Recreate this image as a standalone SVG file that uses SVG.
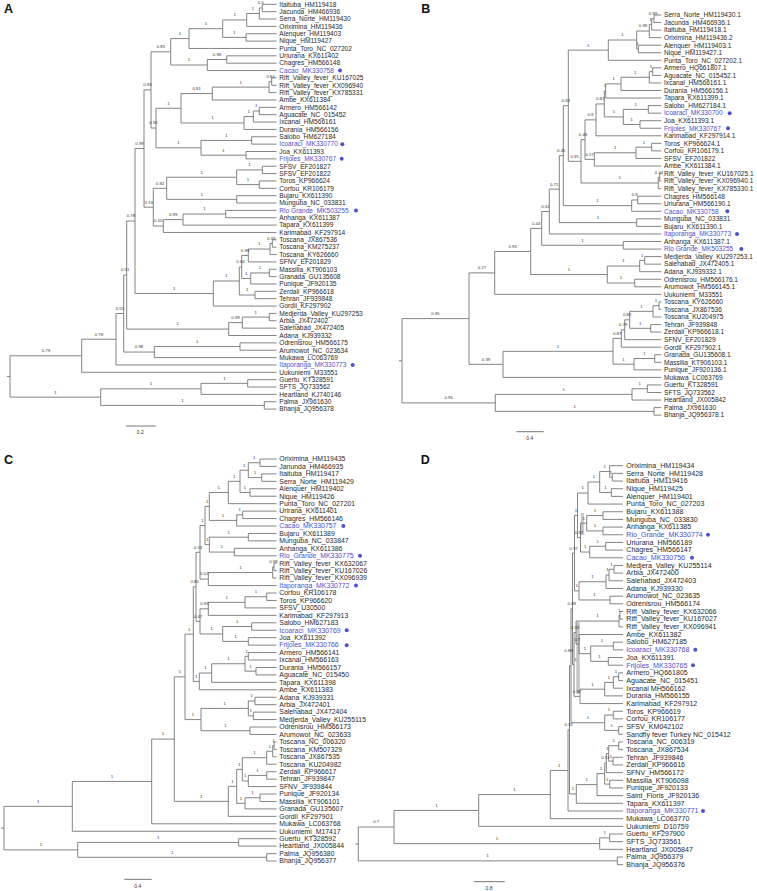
<svg xmlns="http://www.w3.org/2000/svg" width="757" height="891" viewBox="0 0 757 891">
<style>
.t{font-family:"Liberation Sans",Arial,sans-serif;fill:#2a2a2a}
.fa{font-size:6.6px}.fc{font-size:6.9px}.fd{font-size:7.1px}
.bl{fill:#4f4fd0}
.dot{fill:#4f4fd0}
.s{font-family:"Liberation Sans",Arial,sans-serif;font-size:4.3px;fill:#333;text-anchor:middle}
.br{fill:none;stroke:#767676;stroke-width:0.9;vector-effect:non-scaling-stroke}
.sb{fill:none;stroke:#666;stroke-width:0.9}
.sc{font-family:"Liberation Sans",Arial,sans-serif;font-size:5px;fill:#333;text-anchor:middle}
.pl{font-family:"Liberation Sans",Arial,sans-serif;font-size:12.5px;font-weight:bold;fill:#111}
</style>
<rect width="757" height="891" fill="#fff"/>
<g id="connectors">
<g id="treeA" transform="translate(0,4.3) scale(1,7.36)"><path class="br" d="M276.5 0 H262.3 V1 H276.5 M262.3 0.5 H259.3 V2 H276.5 M259.3 1.25 H246.7 V3 H276.5 M276.5 4 H246 V5 H276.5 M246.7 2.125 H222.7 V4.5 H246 M222.7 3.3125 H189 V6 H276.5 M276.5 7 H226.7 V8 H276.5 M226.7 7.5 H207.3 V9 H276.5 M189 4.65625 H170.7 V8.25 H207.3 M276.5 10 H271.7 V11 H276.5 M271.7 10.5 H269 V12 H276.5 M269 11.25 H212.3 V13 H276.5 M276.5 14 H259.3 V15 H276.5 M259.3 14.5 H253.3 V16 H276.5 M253.3 15.25 H244 V17 H276.5 M212.3 12.125 H181 V16.125 H244 M276.5 18 H251.7 V19 H276.5 M276.5 20 H246 V21 H276.5 M251.7 18.5 H201 V20.5 H246 M181 14.125 H156 V19.5 H201 M170.7 6.453 H151 V16.8125 H156 M276.5 22 H262.3 V23 H276.5 M276.5 24 H259.3 V25 H276.5 M262.3 22.5 H236.7 V24.5 H259.3 M276.5 26 H236.7 V27 H276.5 M236.7 23.5 H166.7 V26.5 H236.7 M276.5 28 H225.7 V29 H276.5 M225.7 28.5 H183 V30 H276.5 M183 29.25 H163.3 V31 H276.5 M166.7 25 H153.3 V30.125 H163.3 M151 11.633 H144 V27.5625 H153.3 M276.5 32 H272.3 V33 H276.5 M272.3 32.5 H270 V34 H276.5 M270 33.25 H248.3 V35 H276.5 M276.5 36 H269.3 V37 H276.5 M269.3 36.5 H250.7 V38 H276.5 M248.3 34.125 H241.7 V37.25 H250.7 M276.5 39 H255 V40 H276.5 M241.7 35.6875 H239.3 V39.5 H255 M239.3 37.594 H213.3 V41 H276.5 M144 19.598 H135 V39.297 H213.3 M276.5 42 H269.3 V43 H276.5 M269.3 42.5 H242.3 V44 H276.5 M242.3 43.25 H228.7 V45 H276.5 M135 29.447 H126.7 V44.125 H228.7 M276.5 46 H240 V47 H276.5 M240 46.5 H154.3 V48 H276.5 M126.7 36.786 H123.7 V47.25 H154.3 M123.7 42.018 H116 V49 H276.5 M116 45.509 H81.7 V50 H276.5 M276.5 51 H247.7 V52 H276.5 M247.7 51.5 H201 V53 H276.5 M276.5 54 H264.3 V55 H276.5 M201 52.25 H100.7 V54.5 H264.3 M81.7 47.755 H10 V53.375 H100.7 M7 50.565 H10"/></g>
<g id="treeB" transform="translate(0,15) scale(1,7.55)"><path class="br" d="M661.3 0 H654 V1 H661.3 M654 0.5 H651.7 V2 H661.3 M651.7 1.25 H649.3 V3 H661.3 M661.3 4 H638.3 V5 H661.3 M649.3 2.125 H636.7 V4.5 H638.3 M636.7 3.3125 H608.3 V6 H661.3 M661.3 7 H652.7 V8 H661.3 M652.7 7.5 H649.3 V9 H661.3 M649.3 8.25 H621 V10 H661.3 M621 9.125 H605.7 V11 H661.3 M661.3 12 H648.3 V13 H661.3 M661.3 14 H640 V15 H661.3 M648.3 12.5 H623.3 V14.5 H640 M605.7 10.0625 H604.3 V13.5 H623.3 M604.3 11.78 H596 V16 H661.3 M661.3 17 H651.7 V18 H661.3 M651.7 17.5 H636 V19 H661.3 M636 18.25 H594.3 V20 H661.3 M596 13.89 H585 V19.125 H594.3 M661.3 21 H659.7 V22 H661.3 M659.7 21.5 H658.3 V23 H661.3 M585 16.51 H581 V22.25 H658.3 M608.3 4.656 H568.3 V19.38 H581 M661.3 24 H637.7 V25 H661.3 M637.7 24.5 H631.7 V26 H661.3 M568.3 12.018 H563.3 V25.25 H631.7 M661.3 27 H636.7 V28 H661.3 M563.3 18.634 H559.3 V27.5 H636.7 M559.3 23.067 H549.3 V29 H661.3 M661.3 30 H623.3 V31 H661.3 M549.3 26.03 H541.7 V30.5 H623.3 M661.3 32 H644.7 V33 H661.3 M644.7 32.5 H639.7 V34 H661.3 M661.3 35 H634.7 V36 H661.3 M639.7 33.25 H607.3 V35.5 H634.7 M541.7 28.27 H530.7 V34.375 H607.3 M530.7 31.32 H494.7 V37 H661.3 M661.3 38 H659 V39 H661.3 M659 38.5 H653 V40 H661.3 M661.3 41 H650.7 V42 H661.3 M653 39.25 H629.7 V41.5 H650.7 M629.7 40.375 H624.7 V43 H661.3 M624.7 41.69 H621.3 V44 H661.3 M661.3 45 H654.7 V46 H661.3 M654.7 45.5 H634 V47 H661.3 M621.3 42.84 H613 V46.25 H634 M613 44.545 H503 V48 H661.3 M494.7 34.16 H469 V46.27 H503 M661.3 49 H647.3 V50 H661.3 M647.3 49.5 H632 V51 H661.3 M661.3 52 H654 V53 H661.3 M632 50.25 H495.3 V52.5 H654 M469 40.215 H402 V51.375 H495.3 M399 45.795 H402"/></g>
<g id="treeC" transform="translate(0,459) scale(1,7.445)"><path class="br" d="M276.5 0 H260 V1 H276.5 M276.5 2 H261.7 V3 H276.5 M260 0.5 H248.3 V2.5 H261.7 M276.5 4 H250 V5 H276.5 M248.3 1.5 H240 V4.5 H250 M240 3 H228.3 V6 H276.5 M276.5 7 H242.7 V8 H276.5 M242.7 7.5 H236.7 V9 H276.5 M228.3 4.5 H209.3 V8.25 H236.7 M276.5 10 H248.3 V11 H276.5 M276.5 12 H234.3 V13 H276.5 M248.3 10.5 H209.3 V12.5 H234.3 M209.3 6.375 H205 V11.5 H209.3 M276.5 14 H274 V15 H276.5 M274 14.5 H272.7 V16 H276.5 M272.7 15.25 H208.3 V17 H276.5 M205 8.9375 H200 V16.125 H208.3 M276.5 18 H266.7 V19 H276.5 M266.7 18.5 H245 V20 H276.5 M245 19.25 H208.3 V21 H276.5 M276.5 22 H251.7 V23 H276.5 M276.5 24 H248.3 V25 H276.5 M251.7 22.5 H222.7 V24.5 H248.3 M208.3 20.125 H200 V23.5 H222.7 M200 12.53 H196 V21.8125 H200 M276.5 26 H248.3 V27 H276.5 M276.5 28 H256 V29 H276.5 M248.3 26.5 H245 V28.5 H256 M245 27.5 H211.7 V30 H276.5 M211.7 28.75 H199.3 V31 H276.5 M196 17.17 H193.3 V29.875 H199.3 M276.5 32 H255 V33 H276.5 M276.5 34 H253.3 V35 H276.5 M255 32.5 H248.3 V34.5 H253.3 M276.5 36 H250 V37 H276.5 M248.3 33.5 H201 V36.5 H250 M193.3 23.52 H185 V35 H201 M276.5 38 H274 V39 H276.5 M274 38.5 H272.7 V40 H276.5 M272.7 39.25 H266.7 V41 H276.5 M276.5 42 H266.7 V43 H276.5 M266.7 42.5 H248.3 V44 H276.5 M266.7 40.125 H242.3 V43.25 H248.3 M276.5 45 H260 V46 H276.5 M260 45.5 H245 V47 H276.5 M242.3 41.6875 H236.7 V46.25 H245 M236.7 43.97 H228.3 V48 H276.5 M185 29.26 H174.3 V45.985 H228.3 M174.3 37.62 H151.7 V49 H276.5 M151.7 43.31 H72.3 V50 H276.5 M276.5 51 H238.7 V52 H276.5 M276.5 53 H266.7 V54 H276.5 M238.7 51.5 H77.7 V53.5 H266.7 M72.3 46.655 H4 V52.5 H77.7 M1 49.58 H4"/></g>
<g id="treeD">
<rect x="580.8" y="513" width="3" height="22" fill="#c4c4c4"/>
<rect x="576.3" y="622" width="3.4" height="72" fill="#c4c4c4"/>
<g transform="translate(0,465.7) scale(1,7.673)"><path class="br" d="M623 1 H612.3 V2 H623 M623 0 H609.7 V1.5 H612.3 M623 3 H611.3 V4 H623 M609.7 0.75 H599.7 V3.5 H611.3 M599.7 2.125 H588 V5 H623 M623 6 H603 V7 H623 M623 8 H603 V9 H623 M603 6.5 H586.7 V8.5 H603 M623 10 H605.7 V11 H623 M605.7 10.5 H589.7 V12 H623 M586.7 7.5 H580.5 V11.25 H589.7 M588 3.5625 H577.5 V9.375 H580.5 M623 13 H614 V14 H623 M614 13.5 H609 V15 H623 M609 14.25 H606 V16 H623 M623 17 H610 V18 H623 M606 15.125 H579 V17.5 H610 M577.5 6.469 H574.5 V16.3125 H579 M623 19 H620 V20 H623 M620 19.5 H619 V21 H623 M623 23 H613.3 V24 H623 M623 25 H608.3 V26 H623 M613.3 23.5 H590.7 V25.5 H608.3 M623 22 H579 V24.5 H590.7 M619 20.25 H576 V23.25 H579 M623 27 H618.7 V28 H623 M618.7 27.5 H613.3 V29 H623 M613.3 28.25 H604.7 V30 H623 M604.7 29.125 H580 V31 H623 M576 21.75 H574 V30.0625 H580 M574.5 11.39 H572.5 V25.906 H574 M623 32 H613.3 V33 H623 M623 34 H618.7 V35 H623 M613.3 32.5 H604.7 V34.5 H618.7 M572.5 18.648 H571 V33.5 H604.7 M623 36 H618.7 V37 H623 M623 38 H613 V39 H623 M618.7 36.5 H608.7 V38.5 H613 M608.7 37.5 H606.3 V40 H623 M623 41 H609.7 V42 H623 M606.3 38.75 H604.7 V41.5 H609.7 M604.7 40.125 H597 V43 H623 M597 41.5625 H576.3 V44 H623 M571 26.074 H569.5 V42.781 H576.3 M569.5 34.43 H568 V45 H623 M568 39.715 H550.3 V46 H623 M550.3 42.86 H478.7 V47 H623 M623 48 H609.7 V49 H623 M609.7 48.5 H599.7 V50 H623 M478.7 44.93 H394 V49.25 H599.7 M623 51 H617.3 V52 H623 M394 47.09 H358.3 V51.5 H617.3 M355.3 49.295 H358.3"/></g>
</g>
</g>
<g id="support-values">
<g id="supA">
<text class="s" x="260.8" y="4.38">0.5</text><text class="s" x="253" y="9.9">1</text><text class="s" x="234.7" y="16.34">1</text><text class="s" x="234.35" y="33.82">1</text><text class="s" x="205.85" y="25.08">1</text><text class="s" x="179.85" y="34.97">1</text><text class="s" x="217" y="55.9">0.99</text><text class="s" x="189" y="61.42">1</text><text class="s" x="160.85" y="48.19">0.85</text><text class="s" x="270.35" y="77.98">0.84</text><text class="s" x="240.65" y="83.5">1</text><text class="s" x="196.65" y="89.94">0.81</text><text class="s" x="256.3" y="107.42">1</text><text class="s" x="248.65" y="112.94">1</text><text class="s" x="212.5" y="119.38">1</text><text class="s" x="168.5" y="104.66">1</text><text class="s" x="226.35" y="136.86">1</text><text class="s" x="223.5" y="151.58">1</text><text class="s" x="178.5" y="144.22">1</text><text class="s" x="153.5" y="124.44">0.92</text><text class="s" x="147.5" y="86.32">0.83</text><text class="s" x="249.5" y="166.3">1</text><text class="s" x="248" y="181.02">1</text><text class="s" x="201.7" y="173.66">1</text><text class="s" x="201.7" y="195.74">1</text><text class="s" x="160" y="184.7">0.82</text><text class="s" x="204.35" y="210.46">1</text><text class="s" x="173.15" y="215.98">0.99</text><text class="s" x="158.3" y="222.42">0.55</text><text class="s" x="148.65" y="203.56">0.74</text><text class="s" x="139.5" y="144.94">0.99</text><text class="s" x="271.15" y="239.9">0.39</text><text class="s" x="259.15" y="245.42">1</text><text class="s" x="245" y="251.86">0.99</text><text class="s" x="260" y="269.34">1</text><text class="s" x="246.2" y="274.86">1</text><text class="s" x="240.5" y="263.36">0.84</text><text class="s" x="247.15" y="291.42">1</text><text class="s" x="226.3" y="277.39">1</text><text class="s" x="174.15" y="289.93">1</text><text class="s" x="130.85" y="217.43">0.78</text><text class="s" x="255.8" y="313.5">1</text><text class="s" x="235.5" y="319.02">0.99</text><text class="s" x="177.7" y="325.46">1</text><text class="s" x="125.2" y="271.44">0.51</text><text class="s" x="197.15" y="342.94">1</text><text class="s" x="139" y="348.46">0.98</text><text class="s" x="119.85" y="309.95">0.55</text><text class="s" x="98.85" y="335.65">0.78</text><text class="s" x="45.85" y="352.18">0.79</text><text class="s" x="224.35" y="379.74">1</text><text class="s" x="150.85" y="385.26">1</text><text class="s" x="182.5" y="401.82">1</text><text class="s" x="55.35" y="393.54">1</text>
</g>
<g id="supB">
<text class="s" x="652.85" y="15.18">0.99</text><text class="s" x="650.5" y="20.84">1</text><text class="s" x="643" y="27.44">0.99</text><text class="s" x="637.5" y="45.38">1</text><text class="s" x="622.5" y="36.41">1</text><text class="s" x="588.3" y="46.55">1</text><text class="s" x="651" y="68.03">1</text><text class="s" x="635.15" y="73.69">1</text><text class="s" x="613.35" y="80.29">1</text><text class="s" x="605" y="87.37">1</text><text class="s" x="635.8" y="105.78">1</text><text class="s" x="631.65" y="120.88">1</text><text class="s" x="613.8" y="113.33">1</text><text class="s" x="600.15" y="100.34">0.81</text><text class="s" x="590.5" y="116.27">0.9</text><text class="s" x="643.85" y="143.53">1</text><text class="s" x="615.15" y="149.19">1</text><text class="s" x="589.65" y="155.79">0.57</text><text class="s" x="583" y="136.05">0.49</text><text class="s" x="659" y="173.73">0.44</text><text class="s" x="619.65" y="179.39">1</text><text class="s" x="574.65" y="157.72">0.95</text><text class="s" x="565.8" y="102.14">0.69</text><text class="s" x="634.7" y="196.38">0.9</text><text class="s" x="597.5" y="202.04">1</text><text class="s" x="561.3" y="152.09">0.45</text><text class="s" x="598" y="219.03">1</text><text class="s" x="554.3" y="185.56">0.71</text><text class="s" x="545.5" y="207.93">0.61</text><text class="s" x="582.5" y="241.68">1</text><text class="s" x="536.2" y="224.84">0.44</text><text class="s" x="642.2" y="256.78">1</text><text class="s" x="623.5" y="262.44">1</text><text class="s" x="621" y="279.43">1</text><text class="s" x="569" y="270.93">1</text><text class="s" x="512.7" y="247.87">0.95</text><text class="s" x="481.85" y="269.31">0.27</text><text class="s" x="656" y="302.08">1</text><text class="s" x="641.35" y="307.74">1</text><text class="s" x="640.2" y="324.73">1</text><text class="s" x="627.2" y="316.23">0.82</text><text class="s" x="623" y="326.16">0.79</text><text class="s" x="617.15" y="334.84">0.87</text><text class="s" x="644.35" y="354.93">1</text><text class="s" x="623.5" y="360.59">1</text><text class="s" x="558" y="347.71">1</text><text class="s" x="486" y="360.74">0.39</text><text class="s" x="435.5" y="315.02">0.95</text><text class="s" x="639.65" y="385.13">1</text><text class="s" x="563.65" y="390.79">1</text><text class="s" x="574.65" y="407.78">1</text><text class="s" x="448.65" y="399.28">0.95</text>
</g>
<g id="supC">
<text class="s" x="254.15" y="459.12">1</text><text class="s" x="255" y="474.01">1</text><text class="s" x="244.15" y="466.57">1</text><text class="s" x="245" y="488.9">1</text><text class="s" x="234.15" y="477.74">1</text><text class="s" x="218.8" y="488.9">1</text><text class="s" x="239.7" y="511.24">1</text><text class="s" x="223" y="516.82">1</text><text class="s" x="207.15" y="502.86">1</text><text class="s" x="228.8" y="533.57">1</text><text class="s" x="221.8" y="548.46">1</text><text class="s" x="207.15" y="541.02">1</text><text class="s" x="202.5" y="521.94">1</text><text class="s" x="273.35" y="563.35">0.98</text><text class="s" x="240.5" y="568.94">1</text><text class="s" x="204.15" y="575.45">0.52</text><text class="s" x="198" y="548.69">0.53</text><text class="s" x="255.85" y="593.13">1</text><text class="s" x="226.65" y="598.72">1</text><text class="s" x="204.15" y="605.23">0.93</text><text class="s" x="237.2" y="622.91">1</text><text class="s" x="235.5" y="637.8">1</text><text class="s" x="211.35" y="630.36">1</text><text class="s" x="198" y="617.79">0.47</text><text class="s" x="194.65" y="583.23">0.85</text><text class="s" x="246.65" y="652.69">1</text><text class="s" x="250.5" y="667.58">1</text><text class="s" x="228.35" y="660.14">1</text><text class="s" x="205.5" y="669.44">1</text><text class="s" x="196.3" y="677.82">1</text><text class="s" x="189.15" y="630.51">1</text><text class="s" x="251.65" y="697.36">1</text><text class="s" x="250.8" y="712.25">1</text><text class="s" x="224.65" y="704.81">1</text><text class="s" x="225.5" y="727.14">1</text><text class="s" x="193" y="715.98">1</text><text class="s" x="179.65" y="673.24">1</text><text class="s" x="273.35" y="742.03">1</text><text class="s" x="269.7" y="747.61">1</text><text class="s" x="254.5" y="754.13">1</text><text class="s" x="257.5" y="771.81">1</text><text class="s" x="245.3" y="777.39">1</text><text class="s" x="239.5" y="765.76">1</text><text class="s" x="252.5" y="794.15">1</text><text class="s" x="240.85" y="799.73">1</text><text class="s" x="232.5" y="782.76">1</text><text class="s" x="201.3" y="797.76">1</text><text class="s" x="163" y="735.48">1</text><text class="s" x="112" y="777.84">1</text><text class="s" x="38.15" y="802.75">1</text><text class="s" x="158.2" y="838.82">1</text><text class="s" x="172.2" y="853.71">1</text><text class="s" x="40.85" y="846.26">1</text>
</g>
<g id="supD">
<text class="s" x="611" y="473.61">1</text><text class="s" x="604.7" y="467.85">1</text><text class="s" x="605.5" y="488.96">1</text><text class="s" x="593.85" y="478.41">1</text><text class="s" x="582.75" y="489.43">1</text><text class="s" x="594.85" y="511.97">1</text><text class="s" x="594.85" y="527.32">1</text><text class="s" x="583.6" y="519.65">1</text><text class="s" x="597.7" y="542.67">1</text><text class="s" x="585.1" y="548.42">1</text><text class="s" x="579" y="534.03">0.87</text><text class="s" x="576" y="511.74">1</text><text class="s" x="611.5" y="565.69">1</text><text class="s" x="607.5" y="571.44">1</text><text class="s" x="592.5" y="578.15">1</text><text class="s" x="594.5" y="596.38">1</text><text class="s" x="576.75" y="587.27">1</text><text class="s" x="573.5" y="549.5">0.97</text><text class="s" x="619.5" y="611.72">1</text><text class="s" x="597.5" y="617.48">1</text><text class="s" x="602" y="642.42">1</text><text class="s" x="599.5" y="657.76">1</text><text class="s" x="584.85" y="650.09">1</text><text class="s" x="577.5" y="640.5">0.7</text><text class="s" x="575" y="628.99">0.59</text><text class="s" x="616" y="673.11">1</text><text class="s" x="609" y="678.86">1</text><text class="s" x="592.35" y="685.58">1</text><text class="s" x="577" y="692.76">0.97</text><text class="s" x="575.5" y="661.2">1</text><text class="s" x="571.75" y="605.2">0.88</text><text class="s" x="609" y="711.47">1</text><text class="s" x="611.7" y="726.82">1</text><text class="s" x="587.85" y="719.15">1</text><text class="s" x="568.5" y="651.5">0.89</text><text class="s" x="613.7" y="742.16">1</text><text class="s" x="610.85" y="757.51">1</text><text class="s" x="607.5" y="749.84">1</text><text class="s" x="605.5" y="759.43">0.51</text><text class="s" x="607.2" y="780.53">1</text><text class="s" x="600.85" y="769.98">1</text><text class="s" x="586.65" y="781.01">1</text><text class="s" x="572.9" y="790.36">1</text><text class="s" x="568.75" y="726.3">0.92</text><text class="s" x="559.15" y="766.83">1</text><text class="s" x="514.5" y="790.96">1</text><text class="s" x="436.35" y="806.85">1</text><text class="s" x="604.7" y="834.24">1</text><text class="s" x="496.85" y="840">1</text><text class="s" x="376.15" y="823.42">0.7</text><text class="s" x="487.8" y="857.26">1</text>
</g>
</g>
<g id="panelA" class="t fa">
<text class="pl" x="4" y="12.7">A</text>
<g id="A01"><text x="279.3" y="6.6">Itaituba_HM119418</text></g>
<g id="A02"><text x="279.3" y="13.96">Jacunda_HM466936</text></g>
<g id="A03"><text x="279.3" y="21.32">Serra_Norte_HM119430</text></g>
<g id="A04"><text x="279.3" y="28.68">Oriximina_HM119436</text></g>
<g id="A05"><text x="279.3" y="36.04">Alenquer_HM119403</text></g>
<g id="A06"><text x="279.3" y="43.4">Nique_HM119427</text></g>
<g id="A07"><text x="279.3" y="50.76">Punta_Toro_NC_027202</text></g>
<g id="A08"><text x="279.3" y="58.12">Uriurana_KX611402</text></g>
<g id="A09"><text x="279.3" y="65.48">Chagres_HM566148</text></g>
<g id="A10"><text class="bl" x="279.3" y="72.84">Cacao_MK330758</text><circle class="dot" cx="340" cy="70.54" r="2"/></g>
<g id="A11"><text x="279.3" y="80.2">Rift_Valley_fever_KU167025</text></g>
<g id="A12"><text x="279.3" y="87.56">Rift_Valley_fever_KX096940</text></g>
<g id="A13"><text x="279.3" y="94.92">Rift_Valley_fever_KX785331</text></g>
<g id="A14"><text x="279.3" y="102.28">Ambe_KX611384</text></g>
<g id="A15"><text x="279.3" y="109.64">Armero_HM566142</text></g>
<g id="A16"><text x="279.3" y="117">Aguacate_NC_015452</text></g>
<g id="A17"><text x="279.3" y="124.36">Ixcanal_HM566161</text></g>
<g id="A18"><text x="279.3" y="131.72">Durania_HM566156</text></g>
<g id="A19"><text x="279.3" y="139.08">Salobo_HM627184</text></g>
<g id="A20"><text class="bl" x="279.3" y="146.44">Icoaraci_MK330770</text><circle class="dot" cx="342.3" cy="144.14" r="2"/></g>
<g id="A21"><text x="279.3" y="153.8">Joa_KX611393</text></g>
<g id="A22"><text class="bl" x="279.3" y="161.16">Frijoles_MK330767</text><circle class="dot" cx="341.7" cy="158.86" r="2"/></g>
<g id="A23"><text x="279.3" y="168.52">SFSV_EF201827</text></g>
<g id="A24"><text x="279.3" y="175.88">SFSV_EF201822</text></g>
<g id="A25"><text x="279.3" y="183.24">Toros_KP966624</text></g>
<g id="A26"><text x="279.3" y="190.6">Corfou_KR106179</text></g>
<g id="A27"><text x="279.3" y="197.96">Bujaru_KX611390</text></g>
<g id="A28"><text x="279.3" y="205.32">Munguba_NC_033831</text></g>
<g id="A29"><text class="bl" x="279.3" y="212.68">Rio Grande_MK503255</text><circle class="dot" cx="356" cy="210.38" r="2"/></g>
<g id="A30"><text x="279.3" y="220.04">Anhanga_KX611387</text></g>
<g id="A31"><text x="279.3" y="227.4">Tapara_KX611399</text></g>
<g id="A32"><text x="279.3" y="234.76">Karimabad_KF297914</text></g>
<g id="A33"><text x="279.3" y="242.12">Toscana_JX867536</text></g>
<g id="A34"><text x="279.3" y="249.48">Toscana_KM275237</text></g>
<g id="A35"><text x="279.3" y="256.84">Toscana_KY626660</text></g>
<g id="A36"><text x="279.3" y="264.2">SFNV_EF201829</text></g>
<g id="A37"><text x="279.3" y="271.56">Massilia_KT906103</text></g>
<g id="A38"><text x="279.3" y="278.92">Granada_GU135608</text></g>
<g id="A39"><text x="279.3" y="286.28">Punique_JF920135</text></g>
<g id="A40"><text x="279.3" y="293.64">Zerdali_KP966618</text></g>
<g id="A41"><text x="279.3" y="301">Tehran_JF939848</text></g>
<g id="A42"><text x="279.3" y="308.36">Gordil_KF297902</text></g>
<g id="A43"><text x="279.3" y="315.72">Medjerda_Valley_KU297253</text></g>
<g id="A44"><text x="279.3" y="323.08">Arbia_JX472402</text></g>
<g id="A45"><text x="279.3" y="330.44">Salehabad_JX472405</text></g>
<g id="A46"><text x="279.3" y="337.8">Adana_KJ939332</text></g>
<g id="A47"><text x="279.3" y="345.16">Odrenisrou_HM566175</text></g>
<g id="A48"><text x="279.3" y="352.52">Arumowot_NC_023634</text></g>
<g id="A49"><text x="279.3" y="359.88">Mukawa_LC063769</text></g>
<g id="A50"><text class="bl" x="279.3" y="367.24">Itaporanga_MK330773</text><circle class="dot" cx="352.7" cy="364.94" r="2"/></g>
<g id="A51"><text x="279.3" y="374.6">Uukuniemi_M33551</text></g>
<g id="A52"><text x="279.3" y="381.96">Guertu_KT328591</text></g>
<g id="A53"><text x="279.3" y="389.32">SFTS_JQ733562</text></g>
<g id="A54"><text x="279.3" y="396.68">Heartland_KJ740146</text></g>
<g id="A55"><text x="279.3" y="404.04">Palma_JX961630</text></g>
<g id="A56"><text x="279.3" y="411.4">Bhanja_JQ956378</text></g>
<g id="scaleA"><path class="sb" d="M126 426 H155.7"/><text class="sc" x="140.3" y="434">0.2</text></g>
</g>
<g id="panelB" class="t fa">
<text class="pl" x="421.3" y="12.7">B</text>
<g id="B01"><text x="664" y="17.3">Serra_Norte_HM119430.1</text></g>
<g id="B02"><text x="664" y="24.85">Jacunda_HM466936.1</text></g>
<g id="B03"><text x="664" y="32.4">Itaituba_HM119418.1</text></g>
<g id="B04"><text x="664" y="39.95">Oriximina_HM119436.2</text></g>
<g id="B05"><text x="664" y="47.5">Alenquer_HM119403.1</text></g>
<g id="B06"><text x="664" y="55.05">Nique_HM119427.1</text></g>
<g id="B07"><text x="664" y="62.6">Punta_Toro_NC_027202.1</text></g>
<g id="B08"><text x="664" y="70.15">Armero_HQ661807.1</text></g>
<g id="B09"><text x="664" y="77.7">Aguacate_NC_015452.1</text></g>
<g id="B10"><text x="664" y="85.25">Ixcanal_HM566161.1</text></g>
<g id="B11"><text x="664" y="92.8">Durania_HM566156.1</text></g>
<g id="B12"><text x="664" y="100.35">Tapara_KX611399.1</text></g>
<g id="B13"><text x="664" y="107.9">Salobo_HM627184.1</text></g>
<g id="B14"><text class="bl" x="664" y="115.45">Icoaraci_MK330700</text><circle class="dot" cx="729.7" cy="113.15" r="2"/></g>
<g id="B15"><text x="664" y="123">Joa_KX611393.1</text></g>
<g id="B16"><text class="bl" x="664" y="130.55">Frijoles_MK330767</text><circle class="dot" cx="728" cy="128.25" r="2"/></g>
<g id="B17"><text x="664" y="138.1">Karimabad_KF297914.1</text></g>
<g id="B18"><text x="664" y="145.65">Toros_KP966624.1</text></g>
<g id="B19"><text x="664" y="153.2">Corfou_KR106179.1</text></g>
<g id="B20"><text x="664" y="160.75">SFSV_EF201822</text></g>
<g id="B21"><text x="664" y="168.3">Ambe_KX611384.1</text></g>
<g id="B22"><text x="664" y="175.85">Rift_Valley_fever_KU167025.1</text></g>
<g id="B23"><text x="664" y="183.4">Rift_Valley_fever_KX096940.1</text></g>
<g id="B24"><text x="664" y="190.95">Rift_Valley_fever_KX785330.1</text></g>
<g id="B25"><text x="664" y="198.5">Chagres_HM566148</text></g>
<g id="B26"><text x="664" y="206.05">Uriurana_HM566190.1</text></g>
<g id="B27"><text class="bl" x="664" y="213.6">Cacao_MK330758</text><circle class="dot" cx="727.3" cy="211.3" r="2"/></g>
<g id="B28"><text x="664" y="221.15">Munguba_NC_033831</text></g>
<g id="B29"><text x="664" y="228.7">Bujaru_KX611390.1</text></g>
<g id="B30"><text class="bl" x="664" y="236.25">Itaporanga_MK330773</text><circle class="dot" cx="737" cy="233.95" r="2"/></g>
<g id="B31"><text x="664" y="243.8">Anhanga_KX611387.1</text></g>
<g id="B32"><text class="bl" x="664" y="251.35">Rio Grande_MK503255</text><circle class="dot" cx="741.3" cy="249.05" r="2"/></g>
<g id="B33"><text x="664" y="258.9">Medjerda_Valley_KU297253.1</text></g>
<g id="B34"><text x="664" y="266.45">Salehabad_JX472405.1</text></g>
<g id="B35"><text x="664" y="274">Adana_KJ939332.1</text></g>
<g id="B36"><text x="664" y="281.55">Odrenisrou_HM566176.1</text></g>
<g id="B37"><text x="664" y="289.1">Arumowot_HM566145.1</text></g>
<g id="B38"><text x="664" y="296.65">Uukuniemi_M33551</text></g>
<g id="B39"><text x="664" y="304.2">Toscana_KY626660</text></g>
<g id="B40"><text x="664" y="311.75">Toscana_JX867536</text></g>
<g id="B41"><text x="664" y="319.3">Toscana_KU204975</text></g>
<g id="B42"><text x="664" y="326.85">Tehran_JF939848</text></g>
<g id="B43"><text x="664" y="334.4">Zerdali_KP966618.1</text></g>
<g id="B44"><text x="664" y="341.95">SFNV_EF201829</text></g>
<g id="B45"><text x="664" y="349.5">Gordil_KF297902.1</text></g>
<g id="B46"><text x="664" y="357.05">Granada_GU135608.1</text></g>
<g id="B47"><text x="664" y="364.6">Massilia_KT906103.1</text></g>
<g id="B48"><text x="664" y="372.15">Punique_JF920136.1</text></g>
<g id="B49"><text x="664" y="379.7">Mukawa_LC063769</text></g>
<g id="B50"><text x="664" y="387.25">Guertu_KT328591</text></g>
<g id="B51"><text x="664" y="394.8">SFTS_JQ733562</text></g>
<g id="B52"><text x="664" y="402.35">Heartland_JX005842</text></g>
<g id="B53"><text x="664" y="409.9">Palma_JX961630</text></g>
<g id="B54"><text x="664" y="417.45">Bhanja_JQ956378.1</text></g>
<g id="scaleB"><path class="sb" d="M516.3 431.7 H543.7"/><text class="sc" x="529.7" y="439.5">0.4</text></g>
</g>
<g id="panelC" class="t fc">
<text class="pl" x="4" y="463.7">C</text>
<g id="C01"><text x="279.3" y="461.3">Oriximina_HM119435</text></g>
<g id="C02"><text x="279.3" y="468.75">Janunda_HM466935</text></g>
<g id="C03"><text x="279.3" y="476.19">Itaituba_HM119417</text></g>
<g id="C04"><text x="279.3" y="483.64">Serra_Norte_HM119429</text></g>
<g id="C05"><text x="279.3" y="491.08">Alenquer_HM119402</text></g>
<g id="C06"><text x="279.3" y="498.53">Nique_HM119426</text></g>
<g id="C07"><text x="279.3" y="505.97">Punta_Toro_NC_027201</text></g>
<g id="C08"><text x="279.3" y="513.42">Urirana_KX611401</text></g>
<g id="C09"><text x="279.3" y="520.86">Chagres_HM566146</text></g>
<g id="C10"><text class="bl" x="279.3" y="528.31">Cacao_MK330757</text><circle class="dot" cx="343.3" cy="526" r="2"/></g>
<g id="C11"><text x="279.3" y="535.75">Bujaru_KX611389</text></g>
<g id="C12"><text x="279.3" y="543.2">Munguba_NC_033847</text></g>
<g id="C13"><text x="279.3" y="550.64">Anhanga_KX611386</text></g>
<g id="C14"><text class="bl" x="279.3" y="558.09">Rio_Grande_MK330775</text><circle class="dot" cx="360" cy="555.79" r="2"/></g>
<g id="C15"><text x="279.3" y="565.53">Rift_Valley_fever_KX632067</text></g>
<g id="C16"><text x="279.3" y="572.98">Rift_Valley_fever_KU167026</text></g>
<g id="C17"><text x="279.3" y="580.42">Rift_Valley_fever_KX096939</text></g>
<g id="C18"><text class="bl" x="279.3" y="587.87">Itaporanga_MK330772</text><circle class="dot" cx="356" cy="585.57" r="2"/></g>
<g id="C19"><text x="279.3" y="595.31">Corfou_KR106178</text></g>
<g id="C20"><text x="279.3" y="602.76">Toros_KP966620</text></g>
<g id="C21"><text x="279.3" y="610.2">SFSV_U30500</text></g>
<g id="C22"><text x="279.3" y="617.65">Karimabad_KF297913</text></g>
<g id="C23"><text x="279.3" y="625.09">Salobo_HM627183</text></g>
<g id="C24"><text class="bl" x="279.3" y="632.54">Icoaraci_MK330769</text><circle class="dot" cx="346.7" cy="630.24" r="2"/></g>
<g id="C25"><text x="279.3" y="639.98">Joa_KX611392</text></g>
<g id="C26"><text class="bl" x="279.3" y="647.43">Frijoles_MK330766</text><circle class="dot" cx="346.7" cy="645.13" r="2"/></g>
<g id="C27"><text x="279.3" y="654.87">Armero_HM566141</text></g>
<g id="C28"><text x="279.3" y="662.32">Ixcanal_HM566163</text></g>
<g id="C29"><text x="279.3" y="669.76">Durania_HM566157</text></g>
<g id="C30"><text x="279.3" y="677.21">Aguacate_NC_015450</text></g>
<g id="C31"><text x="279.3" y="684.65">Tapara_KX611398</text></g>
<g id="C32"><text x="279.3" y="692.1">Ambe_KX611383</text></g>
<g id="C33"><text x="279.3" y="699.54">Adana_KJ939331</text></g>
<g id="C34"><text x="279.3" y="706.99">Arbia_JX472401</text></g>
<g id="C35"><text x="279.3" y="714.43">Salehabad_JX472404</text></g>
<g id="C36"><text x="279.3" y="721.88">Medjerda_Valley_KU255115</text></g>
<g id="C37"><text x="279.3" y="729.32">Odrenisrou_HM566173</text></g>
<g id="C38"><text x="279.3" y="736.77">Arumowot_NC_023633</text></g>
<g id="C39"><text x="279.3" y="744.21">Toscana_NC_006320</text></g>
<g id="C40"><text x="279.3" y="751.66">Toscana_KM507329</text></g>
<g id="C41"><text x="279.3" y="759.1">Toscana_JX867535</text></g>
<g id="C42"><text x="279.3" y="766.55">Toscana_KU204982</text></g>
<g id="C43"><text x="279.3" y="773.99">Zerdali_KP966617</text></g>
<g id="C44"><text x="279.3" y="781.44">Tehran_JF939847</text></g>
<g id="C45"><text x="279.3" y="788.88">SFNV_JF939844</text></g>
<g id="C46"><text x="279.3" y="796.33">Punique_JF920134</text></g>
<g id="C47"><text x="279.3" y="803.77">Massilia_KT906101</text></g>
<g id="C48"><text x="279.3" y="811.22">Granada_GU135607</text></g>
<g id="C49"><text x="279.3" y="818.66">Gordil_KF297901</text></g>
<g id="C50"><text x="279.3" y="826.11">Mukawa_LC063768</text></g>
<g id="C51"><text x="279.3" y="833.55">Uukuniemi_M17417</text></g>
<g id="C52"><text x="279.3" y="841">Guertu_KT328592</text></g>
<g id="C53"><text x="279.3" y="848.44">Heartland_JX005844</text></g>
<g id="C54"><text x="279.3" y="855.89">Palma_JQ956380</text></g>
<g id="C55"><text x="279.3" y="863.33">Bhanja_JQ956377</text></g>
<g id="scaleC"><path class="sb" d="M124.3 879.3 H151.7"/><text class="sc" x="137.7" y="887.5">0.4</text></g>
</g>
<g id="panelD" class="t fd">
<text class="pl" x="420.7" y="463.7">D</text>
<g id="D01"><text x="626.3" y="468">Oriximina_HM119434</text></g>
<g id="D02"><text x="626.3" y="475.67">Serra_Norte_HM119428</text></g>
<g id="D03"><text x="626.3" y="483.35">Itaituba_HM119416</text></g>
<g id="D04"><text x="626.3" y="491.02">Nique_HM119425</text></g>
<g id="D05"><text x="626.3" y="498.69">Alenquer_HM119401</text></g>
<g id="D06"><text x="626.3" y="506.37">Punta_Toro_NC_027203</text></g>
<g id="D07"><text x="626.3" y="514.04">Bujaru_KX611388</text></g>
<g id="D08"><text x="626.3" y="521.71">Munguba_NC_033830</text></g>
<g id="D09"><text x="626.3" y="529.38">Anhanga_KX611385</text></g>
<g id="D10"><text class="bl" x="626.3" y="537.06">Rio_Grande_MK330774</text><circle class="dot" cx="708" cy="534.76" r="2"/></g>
<g id="D11"><text x="626.3" y="544.73">Uriurana_HM566189</text></g>
<g id="D12"><text x="626.3" y="552.4">Chagres_HM566147</text></g>
<g id="D13"><text class="bl" x="626.3" y="560.08">Cacao_MK330756</text><circle class="dot" cx="692" cy="557.78" r="2"/></g>
<g id="D14"><text x="626.3" y="567.75">Medjera_Valley_KU255114</text></g>
<g id="D15"><text x="626.3" y="575.42">Arbia_JX472400</text></g>
<g id="D16"><text x="626.3" y="583.1">Salehabad_JX472403</text></g>
<g id="D17"><text x="626.3" y="590.77">Adana_KJ939330</text></g>
<g id="D18"><text x="626.3" y="598.44">Arumowot_NC_023635</text></g>
<g id="D19"><text x="626.3" y="606.11">Odrenisrou_HM566174</text></g>
<g id="D20"><text x="626.3" y="613.79">Rift_Valley_fever_KX632066</text></g>
<g id="D21"><text x="626.3" y="621.46">Rift_Valley_fever_KU167027</text></g>
<g id="D22"><text x="626.3" y="629.13">Rift_Valley_fever_KX096941</text></g>
<g id="D23"><text x="626.3" y="636.81">Ambe_KX611382</text></g>
<g id="D24"><text x="626.3" y="644.48">Salobo_HM627185</text></g>
<g id="D25"><text class="bl" x="626.3" y="652.15">Icoaraci_MK330768</text><circle class="dot" cx="695.3" cy="649.85" r="2"/></g>
<g id="D26"><text x="626.3" y="659.83">Joa_KX611391</text></g>
<g id="D27"><text class="bl" x="626.3" y="667.5">Frijoles_MK330765</text><circle class="dot" cx="693" cy="665.2" r="2"/></g>
<g id="D28"><text x="626.3" y="675.17">Armero_HQ661805</text></g>
<g id="D29"><text x="626.3" y="682.84">Aguacate_NC_015451</text></g>
<g id="D30"><text x="626.3" y="690.52">Ixcanal MH566162</text></g>
<g id="D31"><text x="626.3" y="698.19">Durania_HM566155</text></g>
<g id="D32"><text x="626.3" y="705.86">Karimabad_KF297912</text></g>
<g id="D33"><text x="626.3" y="713.54">Toros_KP966619</text></g>
<g id="D34"><text x="626.3" y="721.21">Corfou_KR106177</text></g>
<g id="D35"><text x="626.3" y="728.88">SFSV_KM042102</text></g>
<g id="D36"><text x="626.3" y="736.56">Sandfly fever Turkey NC_015412</text></g>
<g id="D37"><text x="626.3" y="744.23">Toscana_NC_006319</text></g>
<g id="D38"><text x="626.3" y="751.9">Toscana_JX867534</text></g>
<g id="D39"><text x="626.3" y="759.57">Tehran_JF939846</text></g>
<g id="D40"><text x="626.3" y="767.25">Zerdali_KP966616</text></g>
<g id="D41"><text x="626.3" y="774.92">SFNV_HM566172</text></g>
<g id="D42"><text x="626.3" y="782.59">Massilia_KT906098</text></g>
<g id="D43"><text x="626.3" y="790.27">Punique_JF920133</text></g>
<g id="D44"><text x="626.3" y="797.94">Saint_Floris_JF920136</text></g>
<g id="D45"><text x="626.3" y="805.61">Tapara_KX611397</text></g>
<g id="D46"><text class="bl" x="626.3" y="813.29">Itaporanga_MK330771</text><circle class="dot" cx="703" cy="810.99" r="2"/></g>
<g id="D47"><text x="626.3" y="820.96">Mukawa_LC063770</text></g>
<g id="D48"><text x="626.3" y="828.63">Uukuniemi_D10759</text></g>
<g id="D49"><text x="626.3" y="836.3">Guertu_KF297900</text></g>
<g id="D50"><text x="626.3" y="843.98">SFTS_JQ733561</text></g>
<g id="D51"><text x="626.3" y="851.65">Heartland_JX005847</text></g>
<g id="D52"><text x="626.3" y="859.32">Palma_JQ956379</text></g>
<g id="D53"><text x="626.3" y="867">Bhanja_JQ956376</text></g>
<g id="scaleD"><path class="sb" d="M473.7 881.7 H504.7"/><text class="sc" x="489" y="889.5">0.8</text></g>
</g>
</svg>
